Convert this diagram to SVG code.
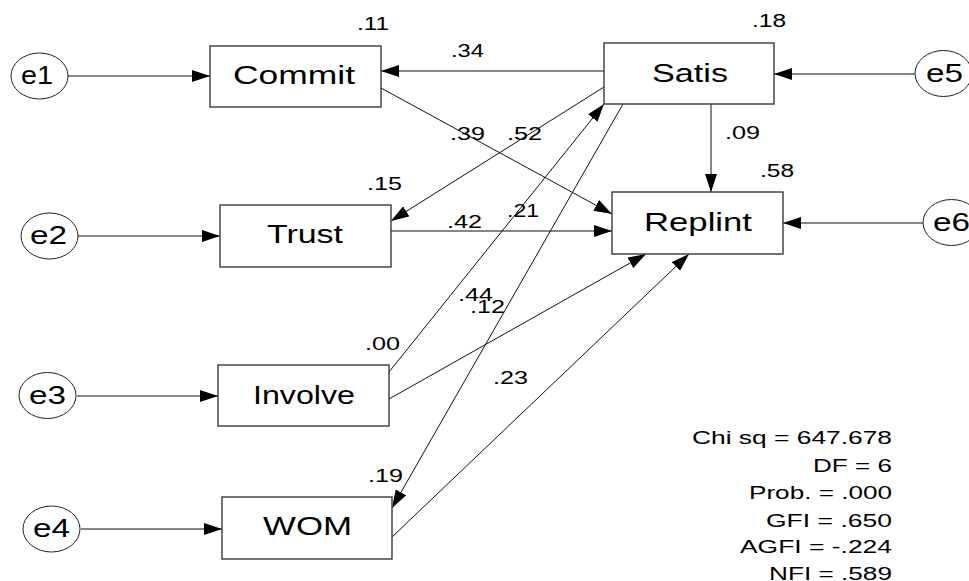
<svg xmlns="http://www.w3.org/2000/svg" width="969" height="581" viewBox="0 0 969 581">
  <style>
    text { font-family: "Liberation Sans", Arial, sans-serif; fill: #000; }
    .box { fill: #fff; stroke: #3a3a3a; stroke-width: 1.4; }
    .err { fill: #fff; stroke: #222; stroke-width: 1; }
    .lbl { font-size: 26px; }
    .num { font-size: 18px; }
    .fit { font-size: 19px; }
    .path { fill: none; stroke: #111; stroke-width: 1; marker-end: url(#arrow); }
  </style>
  <defs>
    <marker id="arrow" markerUnits="userSpaceOnUse" markerWidth="18" markerHeight="12" refX="18" refY="6" orient="auto">
      <path d="M0,0 L18,6 L0,12 z" fill="#000"/>
    </marker>
  </defs>
  <rect width="969" height="581" fill="#fff"/>

  <!-- structural paths -->
  <g id="connectors">
    <line class="path" x1="68" y1="76" x2="210" y2="76"/>
    <line class="path" x1="78" y1="236" x2="220" y2="236"/>
    <line class="path" x1="77" y1="396" x2="218" y2="396"/>
    <line class="path" x1="81" y1="529" x2="222" y2="529"/>
    <line class="path" x1="915" y1="74" x2="774" y2="74"/>
    <line class="path" x1="923" y1="223" x2="783" y2="223"/>
    <line class="path" x1="604" y1="71" x2="381" y2="71"/>
    <line class="path" x1="711" y1="104" x2="711" y2="192"/>
    <line class="path" x1="381" y1="88" x2="612" y2="214"/>
    <line class="path" x1="604" y1="87" x2="391" y2="221"/>
    <line class="path" x1="391" y1="231" x2="612" y2="231"/>
    <line class="path" x1="389" y1="372" x2="604" y2="104"/>
    <line class="path" x1="623" y1="104" x2="392" y2="508"/>
    <line class="path" x1="389" y1="399" x2="646" y2="254"/>
    <line class="path" x1="392" y1="537" x2="689" y2="254"/>
  </g>

  <!-- path coefficients -->
  <g id="coefficients" class="num">
    <text x="451" y="57" textLength="33" lengthAdjust="spacingAndGlyphs">.34</text>
    <text x="450" y="140" textLength="35" lengthAdjust="spacingAndGlyphs">.39</text>
    <text x="507" y="140" textLength="35" lengthAdjust="spacingAndGlyphs">.52</text>
    <text x="725" y="139" textLength="35" lengthAdjust="spacingAndGlyphs">.09</text>
    <text x="507" y="217" textLength="32" lengthAdjust="spacingAndGlyphs">.21</text>
    <text x="447" y="228" textLength="35" lengthAdjust="spacingAndGlyphs">.42</text>
    <text x="458" y="301" textLength="35" lengthAdjust="spacingAndGlyphs">.44</text>
    <text x="470" y="313" textLength="35" lengthAdjust="spacingAndGlyphs">.12</text>
    <text x="493" y="384" textLength="35" lengthAdjust="spacingAndGlyphs">.23</text>
  </g>

  <!-- observed variables with squared multiple correlations -->
  <g id="Commit">
    <rect class="box" x="210" y="46" width="171" height="61"/>
    <text class="lbl" x="233" y="84" textLength="122" lengthAdjust="spacingAndGlyphs">Commit</text>
    <text class="num" x="357" y="30" textLength="32" lengthAdjust="spacingAndGlyphs">.11</text>
  </g>
  <g id="Satis">
    <rect class="box" x="604" y="43" width="170" height="61"/>
    <text class="lbl" x="652" y="82" textLength="76" lengthAdjust="spacingAndGlyphs">Satis</text>
    <text class="num" x="752" y="27" textLength="34" lengthAdjust="spacingAndGlyphs">.18</text>
  </g>
  <g id="Replint">
    <rect class="box" x="612" y="192" width="171" height="62"/>
    <text class="lbl" x="644" y="231" textLength="108" lengthAdjust="spacingAndGlyphs">Replint</text>
    <text class="num" x="760" y="177" textLength="34" lengthAdjust="spacingAndGlyphs">.58</text>
  </g>
  <g id="Trust">
    <rect class="box" x="220" y="205" width="171" height="62"/>
    <text class="lbl" x="267" y="243" textLength="76" lengthAdjust="spacingAndGlyphs">Trust</text>
    <text class="num" x="367" y="190" textLength="35" lengthAdjust="spacingAndGlyphs">.15</text>
  </g>
  <g id="Involve">
    <rect class="box" x="218" y="365" width="171" height="61"/>
    <text class="lbl" x="253" y="404" textLength="102" lengthAdjust="spacingAndGlyphs">Involve</text>
    <text class="num" x="365" y="350" textLength="35" lengthAdjust="spacingAndGlyphs">.00</text>
  </g>
  <g id="WOM">
    <rect class="box" x="222" y="497" width="170" height="62"/>
    <text class="lbl" x="263" y="535" textLength="89" lengthAdjust="spacingAndGlyphs">WOM</text>
    <text class="num" x="368" y="482" textLength="35" lengthAdjust="spacingAndGlyphs">.19</text>
  </g>

  <!-- error terms -->
  <g id="e1">
    <ellipse class="err" cx="39.5" cy="76" rx="28.5" ry="23"/>
    <text class="lbl" x="21" y="84" textLength="32" lengthAdjust="spacingAndGlyphs">e1</text>
  </g>
  <g id="e2">
    <ellipse class="err" cx="49.5" cy="236" rx="28.5" ry="23"/>
    <text class="lbl" x="30" y="244" textLength="37" lengthAdjust="spacingAndGlyphs">e2</text>
  </g>
  <g id="e3">
    <ellipse class="err" cx="47.5" cy="395.5" rx="28.5" ry="23"/>
    <text class="lbl" x="29" y="404" textLength="37" lengthAdjust="spacingAndGlyphs">e3</text>
  </g>
  <g id="e4">
    <ellipse class="err" cx="51.5" cy="529" rx="28.5" ry="23"/>
    <text class="lbl" x="33" y="537" textLength="37" lengthAdjust="spacingAndGlyphs">e4</text>
  </g>
  <g id="e5">
    <ellipse class="err" cx="943.5" cy="73.5" rx="28.5" ry="23"/>
    <text class="lbl" x="926" y="82" textLength="37" lengthAdjust="spacingAndGlyphs">e5</text>
  </g>
  <g id="e6">
    <ellipse class="err" cx="951.5" cy="222.5" rx="28.5" ry="23"/>
    <text class="lbl" x="933" y="231" textLength="37" lengthAdjust="spacingAndGlyphs">e6</text>
  </g>

  <!-- model fit summary -->
  <g id="fit" class="fit">
    <text x="692" y="444" textLength="200" lengthAdjust="spacingAndGlyphs">Chi sq = 647.678</text>
    <text x="813" y="472" textLength="79" lengthAdjust="spacingAndGlyphs">DF = 6</text>
    <text x="749" y="499" textLength="143" lengthAdjust="spacingAndGlyphs">Prob. = .000</text>
    <text x="766" y="527" textLength="126" lengthAdjust="spacingAndGlyphs">GFI = .650</text>
    <text x="740" y="553" textLength="152" lengthAdjust="spacingAndGlyphs">AGFI = -.224</text>
    <text x="769" y="580" textLength="123" lengthAdjust="spacingAndGlyphs">NFI = .589</text>
  </g>
</svg>
